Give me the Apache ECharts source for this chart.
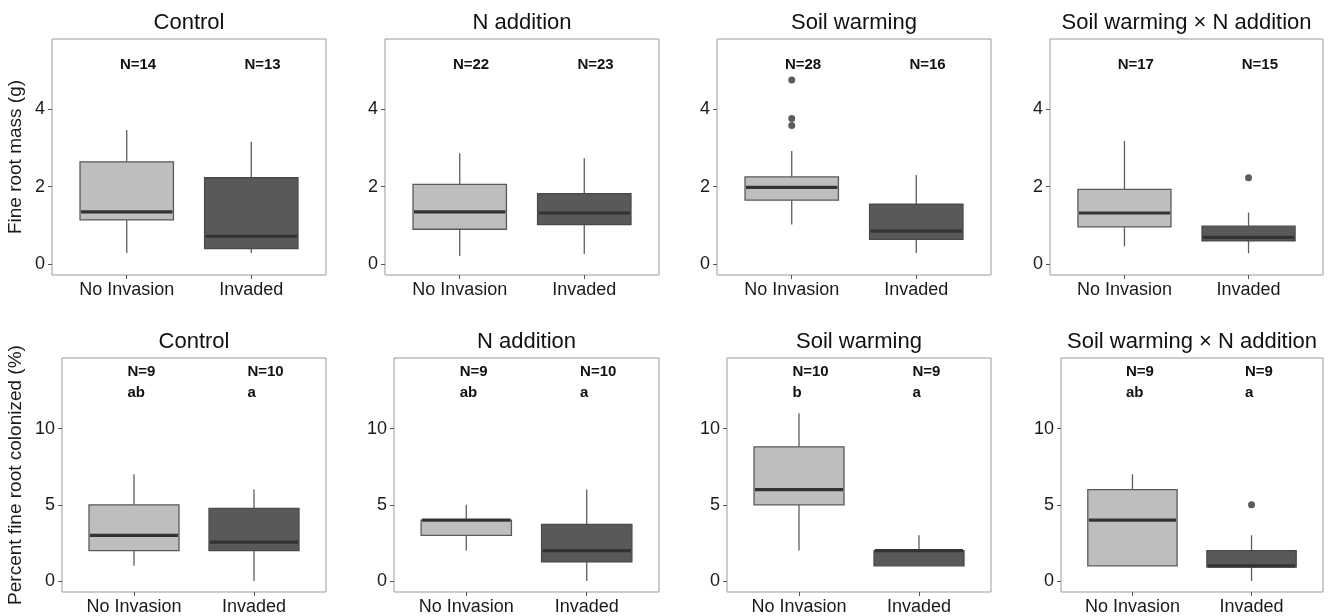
<!DOCTYPE html>
<html>
<head>
<meta charset="utf-8">
<script src="https://cdn.jsdelivr.net/npm/echarts@6/dist/echarts.min.js"></script>
<style>html,body{margin:0;padding:0;background:#fff;}#c{width:1336px;height:616px;}</style>
</head>
<body>
<div id="c"></div>
<script>
// ---------- data ----------
const categories = ['No Invasion', 'Invaded'];
const treatments = ['Control', 'N addition', 'Soil warming', 'Soil warming × N addition'];
// [lower whisker, Q1, median, Q3, upper whisker]
const massNoInvasion = [[0.29,1.14,1.35,2.64,3.46],[0.21,0.90,1.35,2.06,2.86],[1.02,1.65,1.98,2.25,2.92],[0.46,0.96,1.32,1.93,3.18]];
const massInvaded    = [[0.29,0.40,0.72,2.23,3.16],[0.26,1.02,1.32,1.82,2.73],[0.29,0.64,0.85,1.55,2.30],[0.28,0.60,0.69,0.98,1.33]];
const massOutliers   = [[], [], [[1,4.75],[1,3.76],[1,3.58]], [[2,2.23]]];
const massN          = [['N=14','N=13'],['N=22','N=23'],['N=28','N=16'],['N=17','N=15']];
const colNoInvasion  = [[1,2,3,5,7],[2,3,4,4,5],[2,5,6,8.8,11],[1,1,4,6,7]];
const colInvaded     = [[0,2,2.55,4.76,6],[0,1.25,2,3.71,6],[1,1,2,2,3],[0,0.92,1,2,3]];
const colOutliers    = [[], [], [], [[2,5]]];
const colN           = [['N=9','N=10'],['N=9','N=10'],['N=10','N=9'],['N=9','N=9']];
const colLetters     = [['ab','a'],['ab','a'],['b','a'],['ab','a']];
const massTicks = [0, 2, 4];
const colTicks = [0, 5, 10];
const massLabelY = 5.14;
const colLabelY = 13.75, colLetterY = 12.34;

// ---------- layout ----------
const FONT = '"Liberation Sans", Arial, Helvetica, sans-serif';
const topGrids = [[52,274],[385,274],[717,274],[1050,273]];
const botGrids = [[62,264],[394,265],[727,264],[1061,262]];
const topY = 39, topH = 236, botY = 358, botH = 234;
const LIGHT = '#bebebe', DARK = '#595959';

const grids = [], xAxes = [], yAxes = [], series = [], graphics = [];

function boxRender(params, api) {
  const x = api.value(0), lo = api.value(1), q1 = api.value(2), med = api.value(3), q3 = api.value(4), hi = api.value(5);
  const dark = api.value(6) === 1;
  const hw = 0.375;
  const tl = api.coord([x - hw, q3]), br = api.coord([x + hw, q1]);
  const pHi = api.coord([x, hi]), pQ3 = api.coord([x, q3]), pQ1 = api.coord([x, q1]), pLo = api.coord([x, lo]);
  const mL = api.coord([x - hw, med]), mR = api.coord([x + hw, med]);
  const wc = '#5e5e5e';
  return {
    type: 'group',
    children: [
      {type: 'line', shape: {x1: pHi[0], y1: pHi[1], x2: pQ3[0], y2: pQ3[1]}, style: {stroke: wc, lineWidth: 1.3}},
      {type: 'line', shape: {x1: pLo[0], y1: pLo[1], x2: pQ1[0], y2: pQ1[1]}, style: {stroke: wc, lineWidth: 1.3}},
      {type: 'rect', shape: {x: tl[0], y: tl[1], width: br[0] - tl[0], height: br[1] - tl[1]},
        style: {fill: dark ? DARK : LIGHT, stroke: dark ? '#4a4a4a' : '#5a5a5a', lineWidth: 1.3}},
      {type: 'line', shape: {x1: mL[0] + 1, y1: mL[1], x2: mR[0] - 1, y2: mR[1]}, style: {stroke: '#333333', lineWidth: 3.2}}
    ]
  };
}

function makeTextRender(texts) {
  return function (params, api) {
    const p = api.coord([api.value(0) - 0.055, api.value(1)]);
    const txt = texts[api.value(2)];
    return {
      type: 'text', x: p[0], y: p[1],
      style: {text: txt, font: 'bold 15px ' + FONT, fill: '#111', align: 'left', verticalAlign: 'middle',
        textAlign: 'left', textVerticalAlign: 'middle'}
    };
  };
}

function addPanel(idx, g, gy, gh, title, yMin, yMax, ticks, lowers, uppers, outliers, nLabels, nY, letters, letterY, yName, nameGap) {
  grids.push({left: g[0], top: gy, width: g[1], height: gh, show: true, borderColor: '#9a9a9a', borderWidth: 1, backgroundColor: '#fff', containLabel: false});
  xAxes.push({
    type: 'value', gridIndex: idx, min: 0.4, max: 2.6, position: 'bottom',
    axisLine: {show: false, onZero: false}, splitLine: {show: false},
    axisTick: {show: true, length: 4, lineStyle: {color: '#555', width: 1}, customValues: [1, 2]},
    axisLabel: {show: true, customValues: [1, 2], margin: 6, color: '#1a1a1a', fontSize: 18, fontFamily: FONT,
      formatter: function (v) { return categories[Math.round(v) - 1] || ''; }}
  });
  const ya = {
    type: 'value', gridIndex: idx, min: yMin, max: yMax, position: 'left',
    axisLine: {show: false, onZero: false}, splitLine: {show: false},
    axisTick: {show: true, length: 4, lineStyle: {color: '#555', width: 1}, customValues: ticks},
    axisLabel: {show: true, customValues: ticks, margin: 7, color: '#1a1a1a', fontSize: 18, fontFamily: FONT}
  };
  if (yName) {
    ya.name = yName; ya.nameLocation = 'middle'; ya.nameGap = nameGap; ya.nameRotate = 90;
    ya.nameTextStyle = {fontSize: 19, color: '#1a1a1a', fontFamily: FONT};
  }
  yAxes.push(ya);
  series.push({
    type: 'custom', xAxisIndex: idx, yAxisIndex: idx, renderItem: boxRender, silent: true,
    data: [[1].concat(lowers, [0]), [2].concat(uppers, [1])]
  });
  if (outliers.length) {
    series.push({
      type: 'scatter', xAxisIndex: idx, yAxisIndex: idx, symbol: 'circle', symbolSize: 7, silent: true,
      itemStyle: {color: '#333'}, data: outliers
    });
  }
  const texts = [nLabels[0], nLabels[1]];
  const tData = [[1, nY, 0], [2, nY, 1]];
  if (letters) {
    texts.push(letters[0], letters[1]);
    tData.push([1, letterY, 2], [2, letterY, 3]);
  }
  series.push({type: 'custom', xAxisIndex: idx, yAxisIndex: idx, renderItem: makeTextRender(texts), silent: true, data: tData});
  graphics.push({
    type: 'text', x: g[0] + g[1] / 2, y: gy - 16,
    style: {text: title, font: '22px ' + FONT, fill: '#111', align: 'center', verticalAlign: 'middle',
      textAlign: 'center', textVerticalAlign: 'middle'}
  });
}

for (let i = 0; i < 4; i++) {
  addPanel(i, topGrids[i], topY, topH, treatments[i], -0.28, 5.81, massTicks,
    massNoInvasion[i], massInvaded[i], massOutliers[i], massN[i], massLabelY, null, 0,
    i === 0 ? 'Fine root mass (g)' : null, 27);
}
for (let i = 0; i < 4; i++) {
  addPanel(4 + i, botGrids[i], botY, botH, treatments[i], -0.72, 14.63, colTicks,
    colNoInvasion[i], colInvaded[i], colOutliers[i], colN[i], colLabelY, colLetters[i], colLetterY,
    i === 0 ? 'Percent fine root colonized (%)' : null, 37);
}

const chart = echarts.init(document.getElementById('c'), null, {renderer: 'canvas'});
chart.setOption({
  animation: false,
  backgroundColor: '#fff',
  grid: grids, xAxis: xAxes, yAxis: yAxes, series: series,
  graphic: graphics
});
</script>
</body>
</html>
